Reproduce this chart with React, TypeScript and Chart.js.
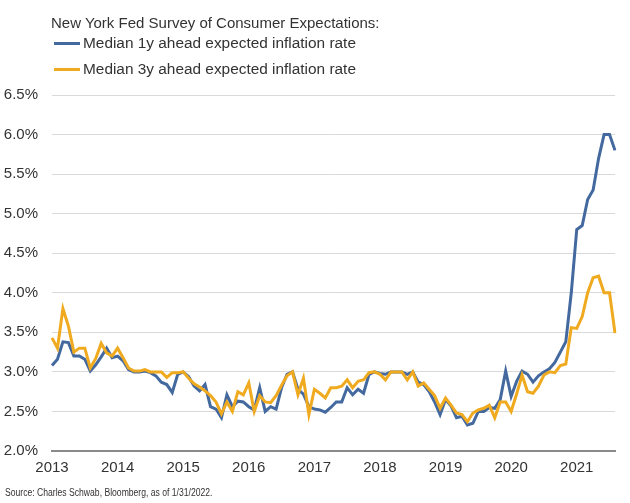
import React, { useEffect, useRef } from "react";
import { Chart, registerables } from "chart.js";

Chart.register(...registerables);

const titleText = "New York Fed Survey of Consumer Expectations:";
const seriesNames = ["Median 1y ahead expected inflation rate", "Median 3y ahead expected inflation rate"];
const sourceText = "Source: Charles Schwab, Bloomberg, as of 1/31/2022.";
const yearTicks = ["2013", "2014", "2015", "2016", "2017", "2018", "2019", "2020", "2021"];
const firstMonth = { year: 2013, month: 6 };
const yTicks = [2.0, 2.5, 3.0, 3.5, 4.0, 4.5, 5.0, 5.5, 6.0, 6.5];

const oneYear = [
  3.08, 3.16, 3.38, 3.37, 3.2, 3.2, 3.16, 3.01, 3.09, 3.19, 3.3, 3.18,
  3.2, 3.14, 3.03, 3.0, 3.0, 3.01, 2.99, 2.95, 2.87, 2.84, 2.74, 2.97,
  3.0, 2.94, 2.82, 2.76, 2.84, 2.56, 2.53, 2.42, 2.71, 2.56, 2.63, 2.62,
  2.56, 2.52, 2.8, 2.5, 2.56, 2.53, 2.8, 2.97, 3.0, 2.78, 2.72, 2.56,
  2.53, 2.52, 2.49, 2.55, 2.62, 2.62, 2.8, 2.71, 2.78, 2.73, 2.97, 3.0,
  2.98, 2.97, 3.0, 3.0, 3.0, 2.97, 3.0, 2.87, 2.84, 2.75, 2.62, 2.46,
  2.65, 2.57, 2.42, 2.44, 2.33, 2.35, 2.5, 2.5, 2.55, 2.54, 2.65, 3.01,
  2.69, 2.88, 3.01, 2.97, 2.87, 2.95, 3.0, 3.04, 3.12, 3.25, 3.38, 4.0,
  4.8, 4.85, 5.18, 5.3, 5.7, 6.0, 6.0, 5.8,
];

const threeYear = [
  3.43, 3.3, 3.8, 3.58, 3.25, 3.3, 3.3, 3.05, 3.17, 3.36, 3.24, 3.2,
  3.3, 3.18, 3.05, 3.01, 3.01, 3.03, 3.0, 3.0, 3.0, 2.93, 2.99, 2.99,
  3.0, 2.92, 2.85, 2.81, 2.76, 2.7, 2.62, 2.47, 2.62, 2.5, 2.75, 2.71,
  2.86, 2.5, 2.7, 2.62, 2.61, 2.7, 2.83, 2.95, 3.0, 2.71, 2.92, 2.46,
  2.78, 2.73, 2.67, 2.8, 2.8, 2.82, 2.9, 2.8, 2.88, 2.9, 2.99, 3.0,
  2.97, 2.9, 3.0, 3.0, 3.0, 2.9, 3.0, 2.82, 2.86, 2.78, 2.7, 2.54,
  2.67, 2.58, 2.48, 2.46, 2.37, 2.48, 2.52, 2.54, 2.58, 2.42, 2.62, 2.62,
  2.5, 2.72, 2.96, 2.75, 2.73, 2.82, 2.96, 3.0, 2.99, 3.08, 3.1, 3.56,
  3.55, 3.7, 4.0, 4.19, 4.21, 4.0, 4.0, 3.49,
];

const monthLabels: string[] = oneYear.map((_, i) => {
  const m = firstMonth.month - 1 + i;
  const y = firstMonth.year + Math.floor(m / 12);
  return `${y}-${String((m % 12) + 1).padStart(2, "0")}`;
});

const BLUE = "#43699f";
const ORANGE = "#f0aa1f";
const TEXT = "#333333";
const FONT = "'Liberation Sans', Arial, sans-serif";

export default function App() {
  const canvasRef = useRef<HTMLCanvasElement | null>(null);

  useEffect(() => {
    document.body.style.margin = "0";
    const canvas = canvasRef.current;
    if (!canvas) return;
    const chart = new Chart(canvas, {
      type: "line",
      data: {
        labels: monthLabels,
        datasets: [
          {
            label: seriesNames[0],
            data: oneYear,
            borderColor: BLUE,
            backgroundColor: BLUE,
            borderWidth: 3,
            pointRadius: 0,
            tension: 0,
            order: 1,
          },
          {
            label: seriesNames[1],
            data: threeYear,
            borderColor: ORANGE,
            backgroundColor: ORANGE,
            borderWidth: 3,
            pointRadius: 0,
            tension: 0,
            order: 0,
          },
        ],
      },
      options: {
        animation: false,
        responsive: false,
        devicePixelRatio: 1,
        layout: { padding: { left: 0, right: 15, top: 95, bottom: 18 } },
        plugins: {
          legend: { display: false },
          title: { display: false },
          tooltip: { enabled: false },
        },
        scales: {
          x: {
            type: "category",
            offset: false,
            grid: { display: false, drawTicks: false },
            border: { display: true, color: "#8a8a8a", width: 2 },
            ticks: {
              autoSkip: false,
              maxRotation: 0,
              minRotation: 0,
              padding: 8,
              color: TEXT,
              font: { family: FONT, size: 15 },
              callback: (_v: any, index: number) =>
                index % 12 === 0 ? yearTicks[index / 12] : null,
            },
          },
          y: {
            min: yTicks[0],
            max: yTicks[yTicks.length - 1],
            afterFit: (scale: any) => {
              scale.width = 52;
            },
            afterBuildTicks: (scale: any) => {
              scale.ticks = yTicks.map((v) => ({ value: v }));
            },
            grid: { color: "#d9d9d9", lineWidth: 1, drawTicks: false },
            border: { display: false },
            ticks: {
              padding: 14,
              color: TEXT,
              font: { family: FONT, size: 15 },
              callback: (v: any) => Number(v).toFixed(1) + "%",
            },
          },
        },
      },
    });
    return () => chart.destroy();
  }, []);

  const legendRow = (color: string, text: string, top: number) => (
    <div
      style={{
        position: "absolute",
        left: 54,
        top: top,
        height: 20,
        display: "flex",
        alignItems: "center",
        whiteSpace: "nowrap",
      }}
    >
      <span style={{ display: "inline-block", width: 26, height: 3, background: color, marginRight: 3 }} />
      <span style={{ fontSize: 15.4, color: TEXT, fontFamily: FONT }}>{text}</span>
    </div>
  );

  return (
    <div style={{ position: "relative", width: 630, height: 503, background: "#ffffff", fontFamily: FONT }}>
      <canvas ref={canvasRef} width={630} height={503} style={{ display: "block" }} />
      <div
        style={{
          position: "absolute",
          left: 51,
          top: 13,
          fontSize: 15,
          color: TEXT,
          whiteSpace: "nowrap",
          lineHeight: "20px",
        }}
      >
        {titleText}
      </div>
      {legendRow(BLUE, seriesNames[0], 33)}
      {legendRow(ORANGE, seriesNames[1], 59)}
      <div
        style={{
          position: "absolute",
          left: 5,
          top: 486,
          fontSize: 10,
          color: TEXT,
          whiteSpace: "nowrap",
          lineHeight: "14px",
          transform: "scaleX(0.86)",
          transformOrigin: "left center",
        }}
      >
        {sourceText}
      </div>
    </div>
  );
}
